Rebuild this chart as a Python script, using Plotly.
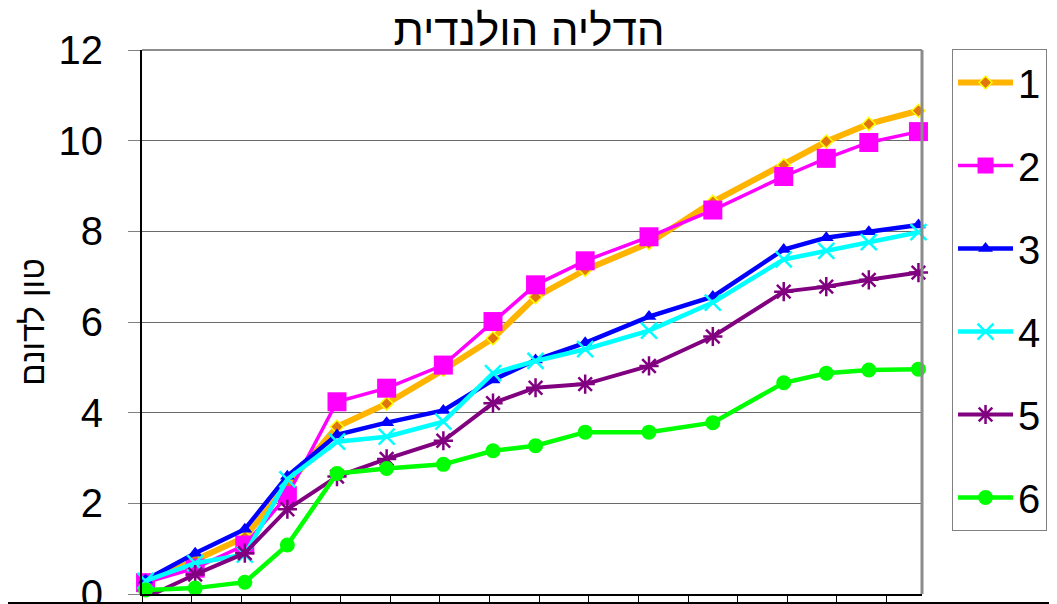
import plotly.graph_objects as go

# x positions (days from first sampling)
days = [0, 7, 14, 20, 27, 34, 42, 49, 55, 62, 71, 80, 90, 96, 102, 109]
names = ["1", "2", "3", "4", "5", "6"]
s1 = [0.25, 0.75, 1.25, 2.40, 3.69, 4.20, 4.94, 5.64, 6.55, 7.15, 7.74, 8.65, 9.46, 9.98, 10.37, 10.66]
s2 = [0.25, 0.57, 1.08, 2.17, 4.24, 4.54, 5.05, 6.01, 6.82, 7.35, 7.88, 8.47, 9.21, 9.61, 9.96, 10.20]
s3 = [0.31, 0.90, 1.43, 2.60, 3.51, 3.78, 4.05, 4.72, 5.16, 5.54, 6.12, 6.56, 7.60, 7.86, 7.99, 8.14]
s4 = [0.29, 0.68, 0.87, 2.53, 3.36, 3.47, 3.80, 4.87, 5.14, 5.40, 5.81, 6.43, 7.38, 7.57, 7.76, 7.98]
s5 = [-0.08, 0.43, 0.90, 1.87, 2.59, 2.98, 3.38, 4.21, 4.55, 4.63, 5.03, 5.68, 6.67, 6.78, 6.93, 7.09]
s6 = [0.09, 0.13, 0.26, 1.08, 2.66, 2.77, 2.86, 3.16, 3.27, 3.57, 3.57, 3.78, 4.66, 4.87, 4.94, 4.96]
title_text = "הדליה הולנדית"
ytitle_text = "טון לדונם"

series = [s1, s2, s3, s4, s5, s6]
styles = [
    dict(line=dict(color="#FFB400", width=6),
         marker=dict(symbol="diamond", size=10, color="#E2760E", line=dict(color="#FFFF00", width=1.5))),
    dict(line=dict(color="#FF00FF", width=3.5),
         marker=dict(symbol="square", size=19, color="#FF00FF")),
    dict(line=dict(color="#0000FF", width=4.5),
         marker=dict(symbol="triangle-up", size=13, color="#0000FF")),
    dict(line=dict(color="#00FFFF", width=4.5),
         marker=dict(symbol="x-thin", size=16, color="#00FFFF", line=dict(color="#00FFFF", width=2.5))),
    dict(line=dict(color="#800080", width=4),
         marker=dict(symbol="asterisk", size=16, color="#800080", line=dict(color="#800080", width=2.5))),
    dict(line=dict(color="#00FF00", width=4.5),
         marker=dict(symbol="circle", size=15, color="#00FF00")),
]

fig = go.Figure()
for name, vals, st in zip(names, series, styles):
    fig.add_trace(go.Scatter(
        x=days, y=vals, name=name, mode="lines+markers",
        line=st["line"], marker=st["marker"], legendgroup=name,
        cliponaxis=False,
    ))

font_family = "Liberation Sans, Arial, sans-serif"
fig.update_layout(
    width=1057, height=604,
    margin=dict(l=134, r=143, t=42, b=18, autoexpand=False),
    paper_bgcolor="white", plot_bgcolor="white",
    font=dict(family=font_family, color="black"),
    title=dict(text=title_text, x=0.493, xref="container", xanchor="center",
               y=1 - 22 / 604, yref="container", yanchor="middle",
               font=dict(size=44, color="black", family=font_family)),
    xaxis=dict(range=[-0.5, 109.5], tickmode="linear", tick0=-0.5, dtick=7,
               ticks="outside", ticklen=9, tickcolor="black", tickwidth=1,
               showticklabels=False, showgrid=False, zeroline=False,
               showline=True, linecolor="black", linewidth=2),
    yaxis=dict(range=[0, 12], tickmode="linear", tick0=0, dtick=2,
               ticks="outside", ticklen=12, tickcolor="#808080", tickwidth=1,
               tickfont=dict(size=40, color="black"), ticklabelstandoff=17,
               ticklabeloverflow="allow",
               showgrid=True, gridcolor="#6a6a6a", gridwidth=1, zeroline=False,
               showline=True, linecolor="black", linewidth=2,
               title=dict(text=ytitle_text, font=dict(size=33, color="black"), standoff=4)),
    legend=dict(x=1.0385, y=1.0018, xanchor="left", yanchor="top",
                font=dict(size=40, color="black"), bgcolor="white",
                bordercolor="#808080", borderwidth=1, tracegroupgap=28,
                itemwidth=55, maxheight=1000),
    shapes=[
        dict(type="line", xref="x domain", yref="y domain", x0=0, x1=1, y0=1, y1=1,
             line=dict(color="#8c8c8c", width=2)),
        dict(type="line", xref="x domain", yref="y domain", x0=1, x1=1, y0=0, y1=1,
             line=dict(color="#8c8c8c", width=3)),
        dict(type="line", xref="paper", yref="paper", x0=-134 / 780, x1=923 / 780,
             y0=-9 / 544, y1=-9 / 544, line=dict(color="black", width=2)),
    ],
)

fig.write_html("out.html")
